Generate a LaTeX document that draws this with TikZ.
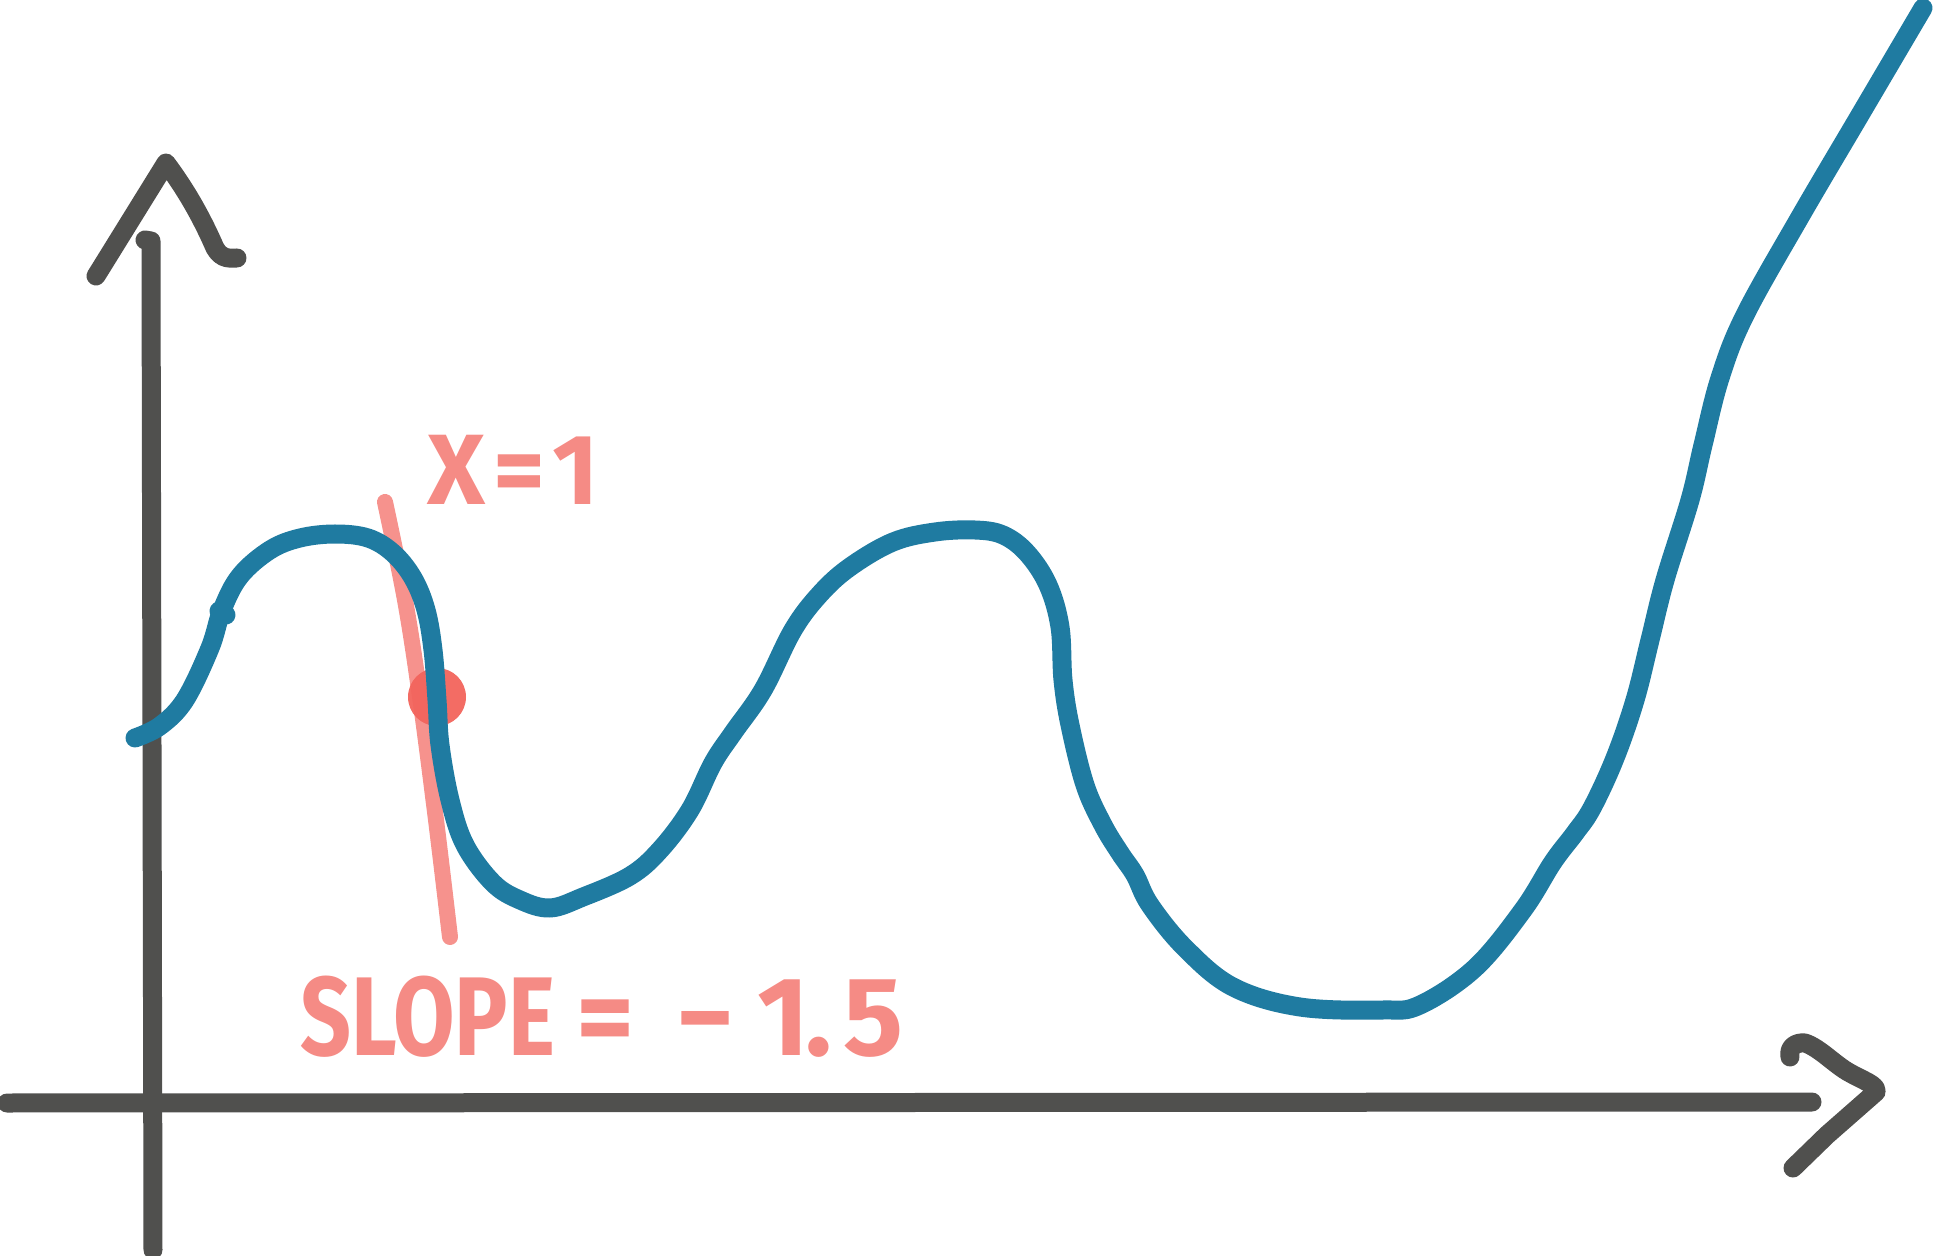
\documentclass[tikz,border=0pt]{standalone}
\usepackage{fontspec}
\setmainfont{Fira Sans}
\definecolor{axisgray}{RGB}{80,80,78}
\definecolor{curveblue}{RGB}{31,123,161}
\definecolor{chalkred}{RGB}{242,100,92}
\begin{document}
\begin{tikzpicture}[x=0.5pt,y=-0.5pt,
  axisline/.style={draw=axisgray,line width=9.5pt,line cap=round,line join=round},
  bluecurve/.style={draw=curveblue,line width=9.5pt,line cap=round,line join=round},
  chalkline/.style={draw=chalkred,opacity=0.7,line width=8pt,line cap=round},
  chalkdot/.style={fill=chalkred,opacity=0.95},
  chalktext/.style={text=chalkred,opacity=0.75,font=\bfseries,inner sep=0pt,outer sep=0pt}]
\useasboundingbox (0,0) rectangle (1934,1256);

% y axis
\draw[axisline] (145,240) -- (151,241) -- (153,1250);
\draw[axisline] (96,276) -- (101,268) -- (166,163)
  .. controls (190,195) and (205,225) .. (215,248)
  .. controls (222,260) and (230,258) .. (237,258);

% x axis
\draw[axisline] (7,1103) -- (1812,1102);
\draw[axisline] (1790,1057) .. controls (1788,1047) and (1796,1042) .. (1805,1043)
  .. controls (1820,1048) and (1835,1065) .. (1850,1073)
  .. controls (1862,1080) and (1878,1085) .. (1876,1092)
  -- (1827,1135) -- (1793,1168);

% tangent line and point
\draw[chalkline] plot[smooth,tension=0.6] coordinates {(385,502) (405,600) (420,697) (436,820) (450,937)};
\fill[chalkdot] (437,697) circle[radius=29];

% labels
\node[chalktext,anchor=base west,font=\bfseries\fontsize{50pt}{50pt}\selectfont] (xlabel) at (427,505)
  {\resizebox{29pt}{\height}{X}\hspace{3.5pt}\makebox[27.5pt][c]{=}\hspace{10.5pt}\makebox[7.5pt][c]{1}};
\node[chalktext,anchor=base west,font=\bfseries\fontsize{56pt}{56pt}\selectfont] (slopelabel) at (300,1055)
  {\resizebox{127.5pt}{\height}{SLOPE}\hspace{11.5pt}\makebox[27.5pt][c]{=}\hspace{22.5pt}\makebox[27.5pt][c]{−}\hspace{21.5pt}\makebox[8pt][c]{1}\hspace{9.5pt}\makebox[8pt][c]{.}\hspace{11pt}\makebox[24.5pt][c]{5}};

% function curve
\draw[bluecurve] plot[smooth,tension=0.6] coordinates {
 (135,738) (160,726) (185,700) (210,648) (222,610) (240,576) (270,550)
 (300,538) (335,534) (368,538) (393,553) (413,578) (426,610) (433,650)
 (437,700) (440,745) (450,800) (465,845) (493,883) (520,900) (550,908)
 (583,897) (630,876) (660,850) (690,810) (713,763) (733,733) (763,690)
 (793,630) (820,594) (850,567) (893,542) (935,532) (975,530) (1003,535)
 (1027,553) (1048,585) (1060,627) (1063,680) (1070,725) (1085,785)
 (1103,825) (1120,853) (1135,875) (1150,905) (1185,948) (1233,987)
 (1300,1007) (1383,1010) (1420,1005) (1475,968) (1523,910) (1553,862)
 (1575,833) (1592,808) (1615,758) (1635,700) (1650,640) (1665,580)
 (1690,500) (1703,445) (1720,378) (1745,315) (1800,217) (1860,115) (1923,8)};
\draw[bluecurve] (219,611) -- (226,615);
\end{tikzpicture}
\end{document}
